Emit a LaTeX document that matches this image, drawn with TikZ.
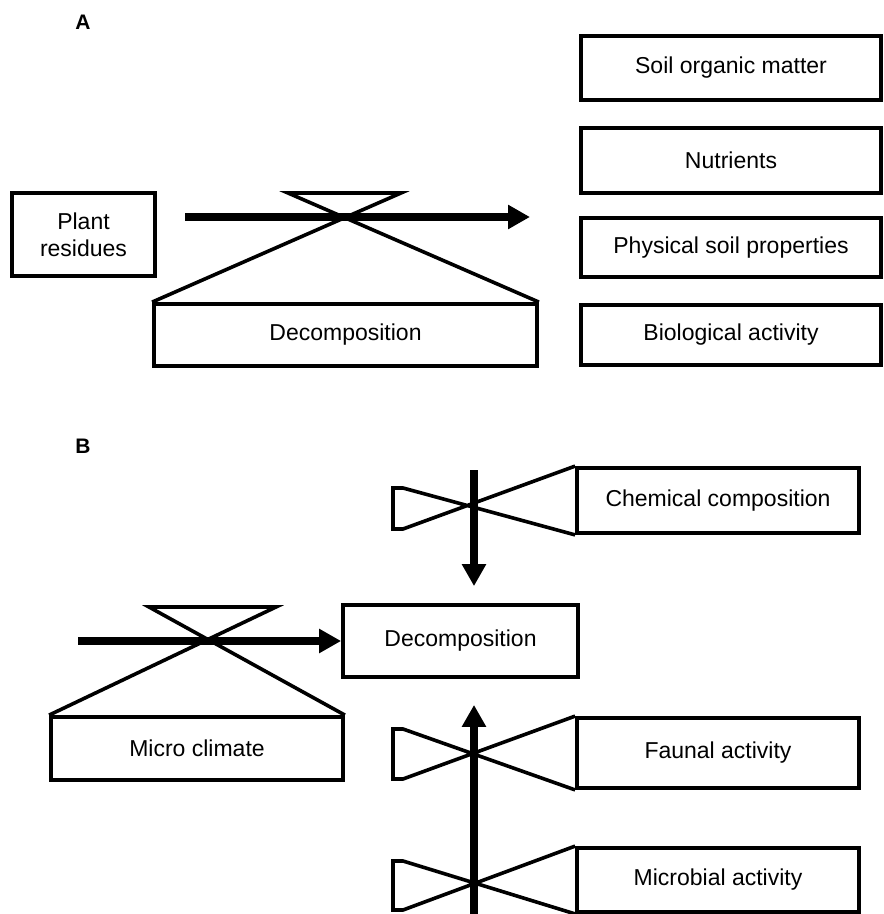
\documentclass[tikz,border=0pt]{standalone}
\usepackage{fontspec}
\setmainfont{Liberation Sans}
\usetikzlibrary{arrows.meta, calc}

\begin{document}
\begin{tikzpicture}[
    x=0.5pt, y=-0.5pt,
    >={Triangle[length=11pt, width=11.5pt]},
    every node/.style={font=\fontsize{11.5}{13.6}\selectfont},
    box/.style={draw, line width=1.9pt, inner sep=0pt, align=center},
    wide/.style={box, minimum width=150pt},
    side/.style={box, minimum width=141pt},
    valve/.style={line width=1.8pt, line join=miter},
    flow/.style={->, line width=3.6pt},
    panel/.style={font=\fontsize{10.5}{12}\selectfont\bfseries},
]
\useasboundingbox (0,0) rectangle (883,914);

% panel A: residues through decomposition
\node[panel] (labA) at (83,22) {A};
\node[box, minimum width=71.5pt, minimum height=41.5pt] (plant) at (83.5,234.5) {Plant\\residues};
\node[box, minimum width=191.5pt, minimum height=31pt] (decA) at (345.5,335) {Decomposition};
\node[wide, minimum height=32pt] (som) at (731,68) {Soil organic matter};
\node[wide, minimum height=32.5pt] (nutr) at (731,160.5) {Nutrients};
\node[wide, minimum height=29.5pt] (phys) at (731,247.5) {Physical soil properties};
\node[wide, minimum height=30pt] (bio) at (731,335) {Biological activity};
% valve on the flow, opened by decomposition
\draw[valve] (decA.north east) -- (288,193) -- (401,193) -- (decA.north west);
\coordinate (inA) at (185,217);
\coordinate (outA) at (530,217);
\draw[flow] (inA) -- (outA);

% panel B: what controls decomposition
\node[panel] (labB) at (83,446) {B};
\node[box, minimum width=117.5pt, minimum height=36pt] (decB) at (460.5,641) {Decomposition};
\node[box, minimum width=146pt, minimum height=31.5pt] (micro) at (197,748.5) {Micro climate};
\node[side, minimum height=32.5pt] (chem) at (718,500.5) {Chemical composition};
\node[side, minimum height=35pt] (faunal) at (718,753) {Faunal activity};
\node[side, minimum height=32pt] (microb) at (718,880) {Microbial activity};
% valves
\draw[valve] (micro.north west) -- (276,607) -- (149,607) -- (micro.north east);
\draw[valve] (chem.north west) -- (403,529) -- (393,529) -- (393,488) -- (403,488) -- (chem.south west);
\draw[valve] (faunal.north west) -- (403,779) -- (393,779) -- (393,729) -- (403,729) -- (faunal.south west);
\draw[valve] (microb.north west) -- (403,910) -- (393,910) -- (393,861) -- (403,861) -- (microb.south west);
% flows into decomposition
\coordinate (inB) at (78,641);
\coordinate (chemtop) at (474,470);
\coordinate (foot) at (474,914);
\draw[flow] (inB) -- (decB.west);
\draw[flow, shorten >=8.5pt] (chemtop) -- (chemtop |- decB.north);
\draw[flow, shorten >=13pt] (foot) -- (foot |- decB.south);
\end{tikzpicture}
\end{document}
